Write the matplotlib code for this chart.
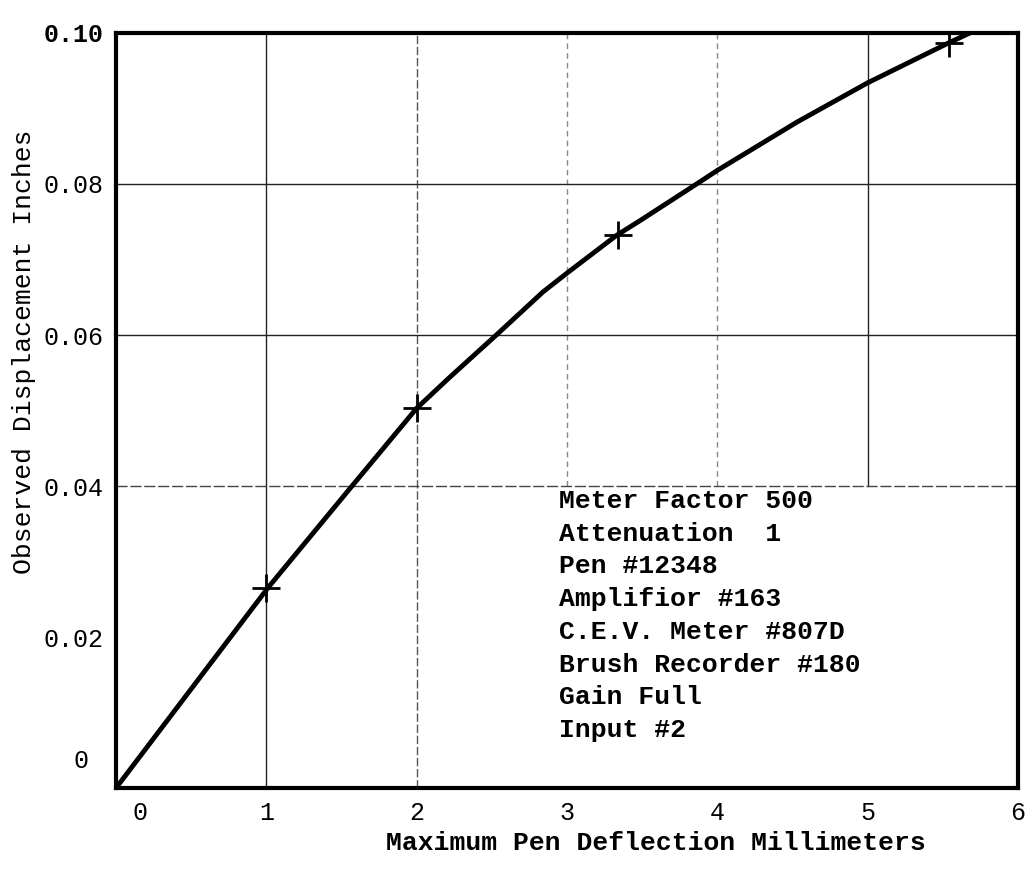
import matplotlib
matplotlib.use("Agg")
import matplotlib.pyplot as plt
from matplotlib.transforms import ScaledTranslation

# curve
deflection_mm = [0, 1.01, 1.57, 2.0, 2.22, 2.53, 2.84, 3.0, 3.33, 3.49, 3.87, 4.0, 4.53, 5.0, 5.54, 5.68]
displacement_in = [0, 0.0265, 0.040, 0.0503, 0.0544, 0.060, 0.0657, 0.0682, 0.0732, 0.0752,
                   0.0801, 0.0818, 0.0882, 0.0934, 0.0987, 0.100]

# measured points (crosses)
meas_x = [1.0, 2.0, 3.34, 5.54]
meas_y = [0.0265, 0.0503, 0.0733, 0.0987]

x_ticks = [0, 1, 2, 3, 4, 5, 6]
y_ticks = [0, 0.02, 0.04, 0.06, 0.08, 0.10]
y_labels = ["0", "0.02", "0.04", "0.06", "0.08", "0.10"]

notes = ["Meter Factor 500",
         "Attenuation  1",
         "Pen #12348",
         "Amplifior #163",
         "C.E.V. Meter #807D",
         "Brush Recorder #180",
         "Gain Full",
         "Input #2"]

mono = "Liberation Mono"

fig = plt.figure(figsize=(10.32, 8.75), dpi=100)
ax = fig.add_axes([0.1124, 0.0994, 0.8740, 0.8629])
ax.set_xlim(0, 6)
ax.set_ylim(0, 0.1)

# grid lines as drawn on the sheet (lower right part is blank)
ax.axvline(1, color="#222222", lw=1.0, zorder=1)
ax.axvline(2, color="#555555", lw=1.0, ls=(0, (6, 2)), zorder=1)
ax.axvline(3, ymin=0.4, color="#888888", lw=1.0, ls=(0, (4, 3)), zorder=1)
ax.axvline(4, ymin=0.4, color="#888888", lw=1.0, ls=(0, (4, 3)), zorder=1)
ax.axvline(5, ymin=0.4, color="#222222", lw=1.0, zorder=1)
ax.axhline(0.08, color="#222222", lw=1.0, zorder=1)
ax.axhline(0.06, color="#222222", lw=1.0, zorder=1)
ax.axhline(0.04, color="#444444", lw=1.0, ls=(0, (8, 2)), zorder=1)

ax.plot(deflection_mm, displacement_in, color="black", lw=3.5,
        solid_capstyle="round", solid_joinstyle="round", zorder=3)
ax.plot(meas_x, meas_y, ls="none", marker="+", markersize=20,
        markeredgewidth=2, color="black", zorder=4)

for s in ax.spines.values():
    s.set_linewidth(3)
    s.set_color("black")

ax.set_xticks(x_ticks)
ax.set_xticklabels([str(v) for v in x_ticks], fontfamily=mono, fontsize=18)
ax.set_yticks(y_ticks)
ax.set_yticklabels(y_labels, fontfamily=mono, fontsize=18)
ax.tick_params(length=0, pad=9)
ax.get_yticklabels()[-1].set_fontweight("bold")

# the hand placed zeros sit a bit off the ticks
ax.get_xticklabels()[0].set_transform(
    ax.get_xticklabels()[0].get_transform() + ScaledTranslation(0.24, 0, fig.dpi_scale_trans))
ax.get_yticklabels()[0].set_transform(
    ax.get_yticklabels()[0].get_transform() + ScaledTranslation(-0.15, 0.30, fig.dpi_scale_trans))

fig.text(0.636, 1 - 843 / 875, "Maximum Pen Deflection Millimeters",
         fontfamily=mono, fontweight="bold", fontsize=19, ha="center", va="center")
fig.text(24 / 1032, 1 - 352 / 875, "Observed Displacement Inches",
         fontfamily=mono, fontsize=19, rotation=90, ha="center", va="center")

for i, line in enumerate(notes):
    fig.text(559 / 1032, 1 - (501 + i * 32.7) / 875, line,
             fontfamily=mono, fontweight="bold", fontsize=19, ha="left", va="center")

fig.savefig("out.png", dpi=100, facecolor="white")
